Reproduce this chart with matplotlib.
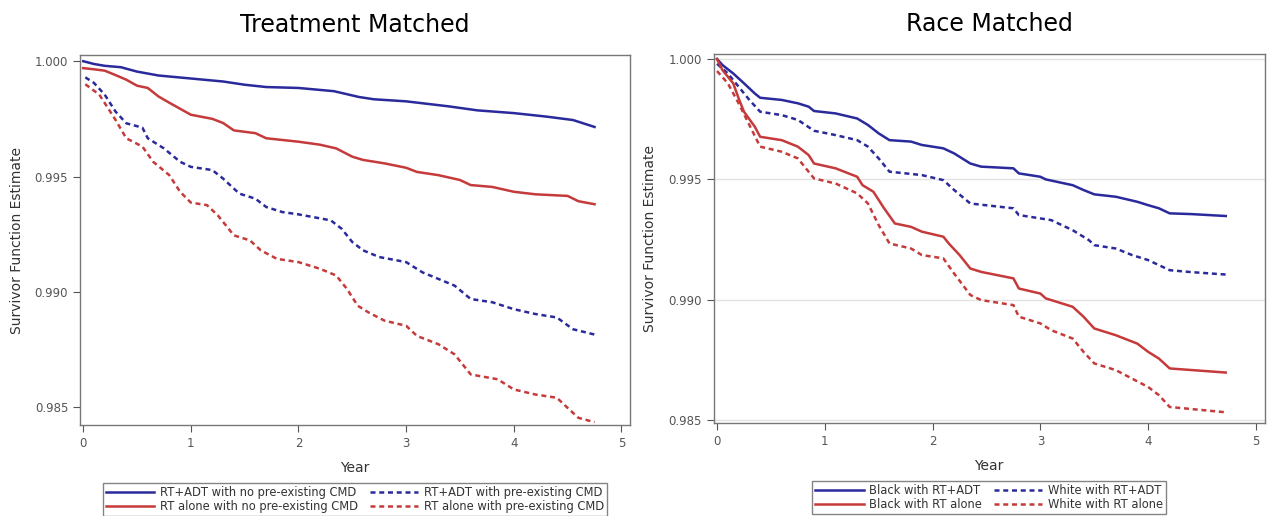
import matplotlib
matplotlib.use("Agg")
import matplotlib.pyplot as plt

# ---- Treatment matched (left) ----
tm_blue_t = [0, 0.1, 0.2, 0.35, 0.5, 0.7, 1.0, 1.3, 1.5, 1.7, 2.0, 2.33, 2.56, 2.7, 3.0, 3.2, 3.4, 3.66, 4.0, 4.3, 4.55, 4.75]
tm_blue_v = [1.0, 0.99988, 0.9998, 0.99974, 0.99955, 0.99938, 0.99925, 0.99912, 0.99898, 0.99888, 0.99884, 0.9987, 0.99845, 0.99835, 0.99826, 0.99815, 0.99804, 0.99787, 0.99775, 0.9976, 0.99745, 0.99715]

tm_red_t = [0, 0.1, 0.2, 0.3, 0.4, 0.5, 0.6, 0.7, 0.8, 1.0, 1.2, 1.3, 1.4, 1.6, 1.7, 2.0, 2.2, 2.35, 2.5, 2.6, 2.8, 3.0, 3.1, 3.3, 3.5, 3.6, 3.8, 4.0, 4.2, 4.5, 4.6, 4.75]
tm_red_v = [0.9997, 0.99965, 0.99959, 0.9994, 0.9992, 0.99894, 0.99884, 0.99847, 0.9982, 0.99768, 0.9975, 0.99732, 0.997, 0.99688, 0.99666, 0.99651, 0.99638, 0.99622, 0.99586, 0.99572, 0.99557, 0.99538, 0.9952, 0.99506, 0.99485, 0.99463, 0.99455, 0.99434, 0.99423, 0.99416, 0.99393, 0.9938]

tm_bdash_t = [0.02, 0.1, 0.2, 0.3, 0.4, 0.55, 0.6, 0.75, 0.9, 1.0, 1.2, 1.3, 1.45, 1.6, 1.7, 1.85, 2.0, 2.3, 2.4, 2.5, 2.6, 2.75, 3.0, 3.15, 3.3, 3.45, 3.6, 3.8, 4.0, 4.2, 4.4, 4.55, 4.75]
tm_bdash_v = [0.9993, 0.99906, 0.99855, 0.99782, 0.99731, 0.99712, 0.99666, 0.99622, 0.99564, 0.99542, 0.99528, 0.99491, 0.99426, 0.99404, 0.99368, 0.99346, 0.99336, 0.9931, 0.99274, 0.99216, 0.9918, 0.99151, 0.99129, 0.99085, 0.99056, 0.99027, 0.98969, 0.98955, 0.98925, 0.98904, 0.98889, 0.98838, 0.98815]

tm_rdash_t = [0.02, 0.15, 0.3, 0.4, 0.55, 0.65, 0.8, 0.9, 1.0, 1.15, 1.25, 1.4, 1.55, 1.65, 1.8, 2.0, 2.2, 2.35, 2.45, 2.55, 2.65, 2.8, 3.0, 3.1, 3.3, 3.45, 3.6, 3.85, 4.0, 4.2, 4.4, 4.5, 4.6, 4.75]
tm_rdash_v = [0.999, 0.99855, 0.99746, 0.99666, 0.9963, 0.99564, 0.99506, 0.99434, 0.99387, 0.99376, 0.99332, 0.99245, 0.99223, 0.9918, 0.99143, 0.99129, 0.991, 0.99071, 0.99013, 0.9894, 0.98911, 0.98875, 0.98853, 0.98809, 0.98773, 0.98729, 0.98642, 0.98621, 0.98577, 0.98555, 0.98541, 0.98497, 0.98454, 0.98435]

# ---- Race matched (right) ----
rm_blue_t = [0, 0.05, 0.15, 0.25, 0.35, 0.4, 0.6, 0.75, 0.85, 0.9, 1.1, 1.3, 1.4, 1.5, 1.6, 1.8, 1.9, 2.1, 2.2, 2.35, 2.45, 2.75, 2.8, 3.0, 3.05, 3.3, 3.4, 3.5, 3.7, 3.9, 4.0, 4.1, 4.2, 4.4, 4.72]
rm_blue_v = [1.0, 0.99975, 0.9994, 0.99899, 0.99857, 0.99839, 0.9983, 0.99816, 0.99802, 0.99784, 0.99774, 0.99753, 0.99726, 0.99691, 0.99663, 0.99657, 0.99643, 0.99629, 0.99608, 0.99566, 0.99553, 0.99546, 0.99525, 0.99511, 0.995, 0.99476, 0.99456, 0.99438, 0.99428, 0.99407, 0.99393, 0.9938, 0.99359, 0.99356, 0.99348]

rm_bdash_t = [0, 0.1, 0.2, 0.3, 0.4, 0.6, 0.75, 0.9, 1.1, 1.3, 1.4, 1.5, 1.6, 1.9, 2.1, 2.2, 2.35, 2.75, 2.8, 3.1, 3.3, 3.45, 3.5, 3.7, 3.85, 4.0, 4.2, 4.4, 4.72]
rm_bdash_v = [0.9998, 0.9994, 0.99885, 0.9983, 0.99781, 0.99767, 0.99747, 0.99702, 0.99684, 0.99663, 0.99636, 0.99587, 0.99532, 0.99518, 0.99497, 0.99456, 0.994, 0.9938, 0.99352, 0.99331, 0.99289, 0.99248, 0.99227, 0.99213, 0.99186, 0.99165, 0.99123, 0.99115, 0.99105]

rm_red_t = [0, 0.05, 0.15, 0.2, 0.25, 0.35, 0.4, 0.6, 0.75, 0.85, 0.9, 1.1, 1.3, 1.35, 1.45, 1.55, 1.65, 1.8, 1.9, 2.1, 2.15, 2.25, 2.35, 2.45, 2.75, 2.8, 3.0, 3.05, 3.3, 3.4, 3.5, 3.7, 3.9, 4.0, 4.1, 4.2, 4.72]
rm_red_v = [1.0, 0.99954, 0.99899, 0.99837, 0.99781, 0.99719, 0.99677, 0.99663, 0.99636, 0.99601, 0.99566, 0.99546, 0.99511, 0.99476, 0.99449, 0.9938, 0.99317, 0.99303, 0.99283, 0.99262, 0.99234, 0.99186, 0.9913, 0.99116, 0.99089, 0.99047, 0.99026, 0.99006, 0.98971, 0.9893, 0.98881, 0.98853, 0.98818, 0.98784, 0.98756, 0.98715, 0.98698]

rm_rdash_t = [0, 0.1, 0.2, 0.3, 0.4, 0.6, 0.75, 0.9, 1.1, 1.3, 1.4, 1.5, 1.6, 1.8, 1.9, 2.1, 2.2, 2.35, 2.45, 2.75, 2.8, 3.0, 3.1, 3.3, 3.4, 3.5, 3.7, 3.85, 4.0, 4.1, 4.2, 4.72]
rm_rdash_v = [0.9995, 0.99899, 0.99816, 0.99726, 0.99636, 0.99615, 0.99587, 0.99504, 0.99483, 0.99442, 0.994, 0.9931, 0.99234, 0.99213, 0.99186, 0.99172, 0.99109, 0.9902, 0.98999, 0.98978, 0.9893, 0.98902, 0.98874, 0.98839, 0.98784, 0.98736, 0.98708, 0.98673, 0.98638, 0.98604, 0.98555, 0.98533]

tm_labels = ["RT+ADT with no pre-existing CMD", "RT+ADT with pre-existing CMD",
             "RT alone with no pre-existing CMD", "RT alone with pre-existing CMD"]
rm_labels = ["Black with RT+ADT", "White with RT+ADT",
             "Black with RT alone", "White with RT alone"]
yticks = [0.985, 0.990, 0.995, 1.000]
xticks = [0, 1, 2, 3, 4, 5]

BLUE = "#2a2a9c"
RED = "#c53a3a"
DASH = (0, (2.0, 1.5))
GRAY = "#555555"

fig = plt.figure(figsize=(12.69, 5.16), dpi=100)
ax1 = fig.add_axes([0.063, 0.176, 0.4335, 0.717])
ax2 = fig.add_axes([0.5625, 0.180, 0.434, 0.715])


def style_axes(ax, ylim, grid):
    ax.set_xlim(-0.03, 5.08)
    ax.set_ylim(*ylim)
    ax.set_xticks(xticks)
    ax.set_yticks(yticks)
    ax.set_yticklabels(["%.3f" % v for v in yticks])
    for s in ax.spines.values():
        s.set_color("#777777")
        s.set_linewidth(1.0)
    ax.tick_params(axis="both", labelsize=8.5, colors=GRAY, length=5, direction="out")
    ax.set_xlabel("Year", fontsize=10, color="#333333", labelpad=8)
    ax.set_ylabel("Survivor Function Estimate", fontsize=10, color="#333333", labelpad=8)
    if grid:
        ax.yaxis.grid(True, color="#e3e3e3", linewidth=1.0)
        ax.set_axisbelow(True)


def draw(ax, series, labels):
    lines = []
    for (t, v, col, ls) in series:
        ln, = ax.plot(t, v, color=col, linestyle=ls, linewidth=1.8)
        lines.append(ln)
    # legend order: col1 solid lines, col2 dashed lines
    order = [lines[0], lines[2], lines[1], lines[3]]
    lab = [labels[0], labels[2], labels[1], labels[3]]
    return order, lab


h1, l1 = draw(ax1, [(tm_blue_t, tm_blue_v, BLUE, "-"), (tm_bdash_t, tm_bdash_v, BLUE, DASH),
                    (tm_red_t, tm_red_v, RED, "-"), (tm_rdash_t, tm_rdash_v, RED, DASH)], tm_labels)
style_axes(ax1, (0.98422, 1.00026), False)
ax1.set_title("Treatment Matched", fontsize=17, pad=17)

h2, l2 = draw(ax2, [(rm_blue_t, rm_blue_v, BLUE, "-"), (rm_bdash_t, rm_bdash_v, BLUE, DASH),
                    (rm_red_t, rm_red_v, RED, "-"), (rm_rdash_t, rm_rdash_v, RED, DASH)], rm_labels)
style_axes(ax2, (0.98488, 1.0002), True)
ax2.set_title("Race Matched", fontsize=17, pad=17)

for ax, h, l in [(ax1, h1, l1), (ax2, h2, l2)]:
    leg = ax.legend(h, l, ncol=2, loc="upper center", bbox_to_anchor=(0.5, -0.157),
                    fontsize=8.3, frameon=True, fancybox=False, handlelength=4.2,
                    handletextpad=0.5, columnspacing=1.0, labelspacing=0.1,
                    borderpad=0.25, borderaxespad=0)
    leg.get_frame().set_edgecolor("#666666")
    leg.get_frame().set_linewidth(1.0)
    for txt in leg.get_texts():
        txt.set_color("#333333")

fig.savefig("out.png", dpi=100)
